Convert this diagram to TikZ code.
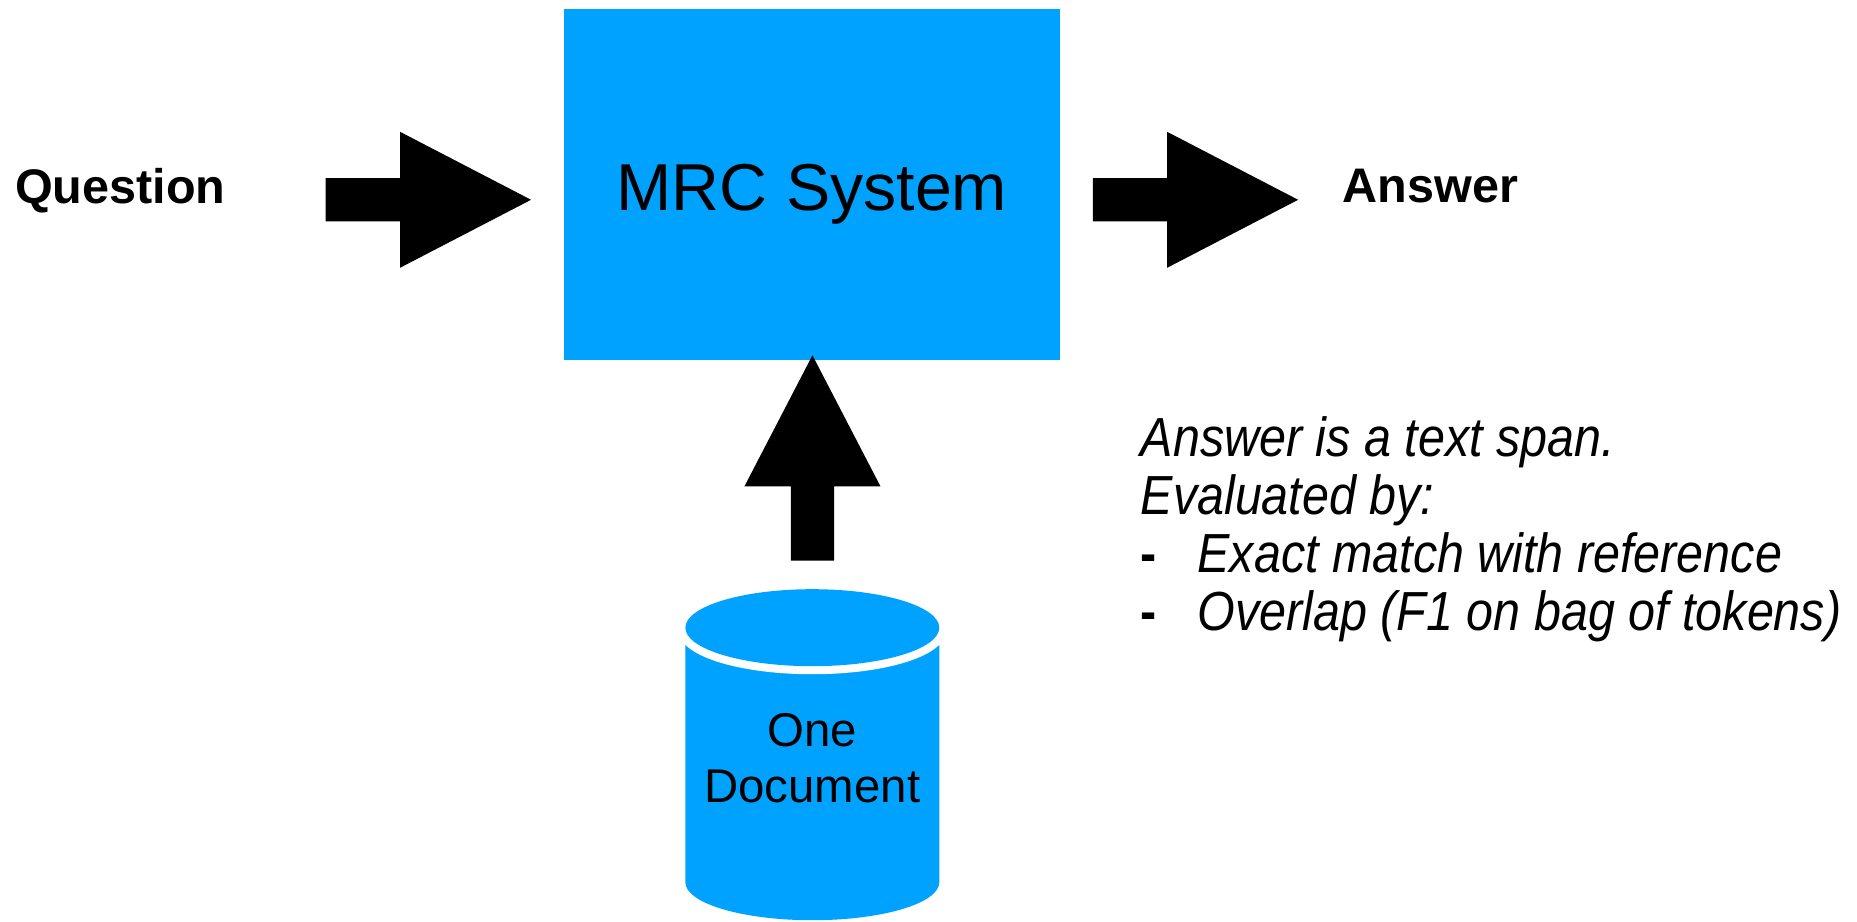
\documentclass[tikz,border=0pt]{standalone}
\usepackage{fontspec}
\setmainfont{Liberation Sans}
\newfontfamily\notefont[FakeStretch=0.88]{Liberation Sans}
\definecolor{mrcblue}{RGB}{0,162,255}
\tikzset{
  blockarrow/.pic={\fill[black] (0,-18.3) -- (62.8,-18.3) -- (62.8,-57.4) -- (173.4,0) -- (62.8,57.4) -- (62.8,18.3) -- (0,18.3) -- cycle;},
  boldlabel/.style={anchor=base west, inner sep=0pt, font=\bfseries\fontsize{41}{49}\selectfont},
  sysbox/.style={rectangle, fill=mrcblue, draw=none, minimum width=418.9pt, minimum height=296.4pt, inner sep=0pt},
}
\newcommand{\notedash}{\makebox[48pt][l]{\upshape\bfseries -}}
\begin{document}
\begin{tikzpicture}[x=1pt,y=-1pt]
\useasboundingbox (0,0) rectangle (1568,778.5);
% labels
\node[boldlabel] (question) at (12.5,171.7) {Question};
\node[boldlabel] (answer) at (1133.5,171.1) {Answer};
% system box
\node[sysbox] (sys) at (685.6,155.8) {};
\node[anchor=base, inner sep=0pt, font=\fontsize{56}{67}\selectfont] (systext) at (685.6,177.9) {MRC System};
% arrows
\coordinate (qa) at (275,168.7);
\coordinate (aa) at (922.7,168.7);
\coordinate (da) at (686,473.4);
\pic at (qa) {blockarrow};
\pic at (aa) {blockarrow};
\pic[rotate=90] at (da) {blockarrow};
% cylinder
\fill[mrcblue] (578.7,530) -- (578.7,745) arc[start angle=180, end angle=0, x radius=107.2, y radius=32] -- (793.1,530) -- cycle;
\draw[white, line width=13.6pt, fill=mrcblue] (685.9,530) ellipse[x radius=107.2, y radius=32.5];
\fill[mrcblue] (685.9,530) ellipse[x radius=107.2, y radius=32.5];
\node[anchor=base, inner sep=0pt, align=center, font=\fontsize{40}{47.5}\selectfont] (doc) at (685.9,677.5) {One\\Document};
% note
\node[anchor=base west, inner sep=0pt, align=left, font=\notefont\itshape\fontsize{46.5}{49}\selectfont] (note) at (963,532.4)
  {Answer is a text span.\\Evaluated by:\\\notedash Exact match with reference\\\notedash Overlap (F1 on bag of tokens)};
\end{tikzpicture}
\end{document}
